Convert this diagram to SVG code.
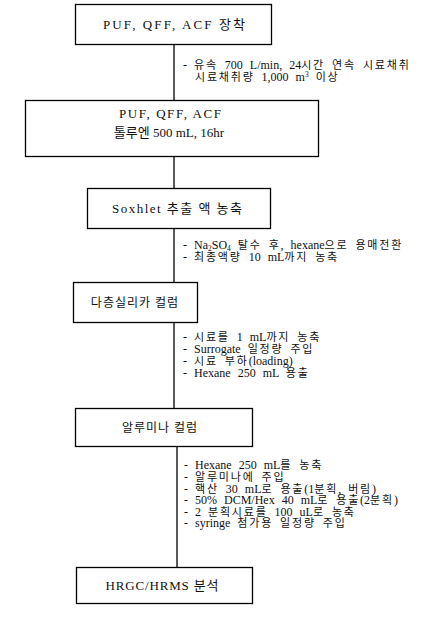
<svg xmlns="http://www.w3.org/2000/svg" width="444" height="618" viewBox="0 0 444 618">
<style>
.box{fill:#fff;stroke:#000;stroke-width:1.3}
.con{stroke:#000;stroke-width:1.3;fill:none}
text{font-family:"Liberation Serif","Noto Sans CJK KR",serif;fill:#111}
.bt{font-size:13px;text-anchor:middle}
.bk{font-size:12px;text-anchor:middle;letter-spacing:1px}
.st{font-size:12px;word-spacing:4px}
.k{font-size:11px;letter-spacing:1.8px}
.sub{font-size:7.5px}
</style>
<rect width="444" height="618" fill="#fff"/>
<g id="connectors">
<line class="con" x1="174" y1="44" x2="174" y2="100"/>
<line class="con" x1="174" y1="156" x2="174" y2="188"/>
<line class="con" x1="174" y1="228" x2="174" y2="282"/>
<line class="con" x1="174" y1="322" x2="174" y2="408"/>
<line class="con" x1="177" y1="446" x2="177" y2="567"/>
</g>
<g id="node1">
<rect class="box" x="75.5" y="4.5" width="196" height="40"/>
<text class="bt" x="174" y="29" textLength="142" lengthAdjust="spacing">PUF, QFF, ACF 장착</text>
</g>
<g id="note1">
<text class="st" x="183" y="69">- <tspan class="k">유속</tspan> 700 L/min, 24<tspan class="k">시간</tspan> <tspan class="k">연속</tspan> <tspan class="k">시료채취</tspan></text>
<text class="st" x="195" y="81"><tspan class="k">시료채취량</tspan> 1,000 m<tspan class="sub" dy="-4">3</tspan><tspan dy="4"> </tspan><tspan class="k">이상</tspan></text>
</g>
<g id="node2">
<rect class="box" x="25.5" y="100.5" width="293" height="56"/>
<text class="bt" x="170" y="118" textLength="102" lengthAdjust="spacing">PUF, QFF, ACF</text>
<text class="bt" x="169" y="137">톨루엔 500 mL, 16hr</text>
</g>
<g id="node3">
<rect class="box" x="87.5" y="188.5" width="183" height="40"/>
<text class="bt" x="177" y="213" textLength="130" lengthAdjust="spacing">Soxhlet 추출 액 농축</text>
</g>
<g id="note2">
<text class="st" x="183" y="249">- Na<tspan class="sub" dy="2">2</tspan><tspan dy="-2">SO</tspan><tspan class="sub" dy="2">4</tspan><tspan dy="-2"> </tspan><tspan class="k">탈수</tspan> <tspan class="k">후</tspan>, hexane<tspan class="k">으로</tspan> <tspan class="k">용매전환</tspan></text>
<text class="st" x="183" y="261">- <tspan class="k">최종액량</tspan> 10 mL<tspan class="k">까지</tspan> <tspan class="k">농축</tspan></text>
</g>
<g id="node4">
<rect class="box" x="73.5" y="282.5" width="124" height="40"/>
<text class="bk" x="135" y="306.5">다층실리카 컬럼</text>
</g>
<g id="note3">
<text class="st" x="183" y="341">- <tspan class="k">시료를</tspan> 1 mL<tspan class="k">까지</tspan> <tspan class="k">농축</tspan></text>
<text class="st" x="183" y="353">- Surrogate <tspan class="k">일정량</tspan> <tspan class="k">주입</tspan></text>
<text class="st" x="183" y="365">- <tspan class="k">시료</tspan> <tspan class="k">부하</tspan>(loading)</text>
<text class="st" x="183" y="377">- Hexane 250 mL <tspan class="k">용출</tspan></text>
</g>
<g id="node5">
<rect class="box" x="75.5" y="408.5" width="177" height="38"/>
<text class="bk" x="160" y="431.5">알루미나 컬럼</text>
</g>
<g id="note4">
<text class="st" x="184" y="469">- Hexane 250 mL<tspan class="k">를</tspan> <tspan class="k">농축</tspan></text>
<text class="st" x="184" y="481">- <tspan class="k">알루미나에</tspan> <tspan class="k">주입</tspan></text>
<text class="st" x="184" y="492.5">- <tspan class="k">핵산</tspan> 30 mL<tspan class="k">로</tspan> <tspan class="k">용출</tspan>(1<tspan class="k">분획</tspan>, <tspan class="k">버림</tspan>)</text>
<text class="st" x="184" y="504">- 50% DCM/Hex 40 mL<tspan class="k">로</tspan> <tspan class="k">용출</tspan>(2<tspan class="k">분획</tspan>)</text>
<text class="st" x="184" y="515.5">- 2 <tspan class="k">분획시료를</tspan> 100 uL<tspan class="k">로</tspan> <tspan class="k">농축</tspan></text>
<text class="st" x="184" y="527">- syringe <tspan class="k">첨가용</tspan> <tspan class="k">일정량</tspan> <tspan class="k">주입</tspan></text>
</g>
<g id="node6">
<rect class="box" x="76.5" y="567.5" width="176" height="36"/>
<text class="bt" x="162" y="590" textLength="113" lengthAdjust="spacing">HRGC/HRMS 분석</text>
</g>
</svg>
